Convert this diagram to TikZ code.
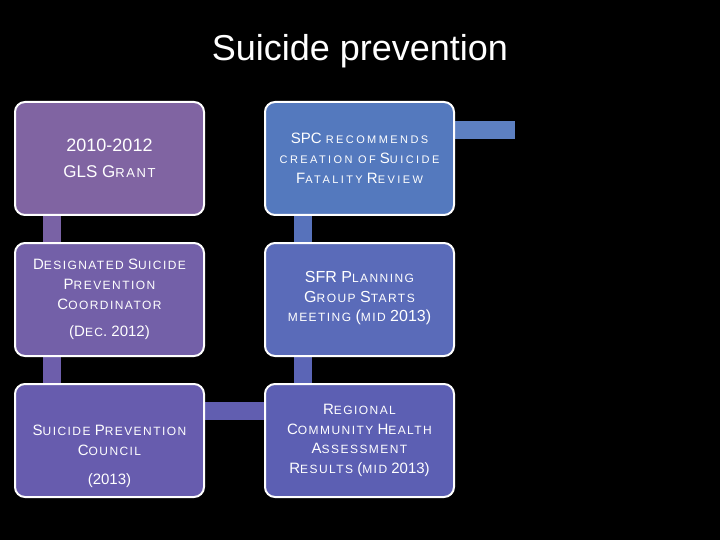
\documentclass[tikz,border=0pt]{standalone}
\usepackage{fontspec}
\setmainfont{Liberation Sans}
\usetikzlibrary{backgrounds}
\definecolor{cA}{HTML}{8064A2}
\definecolor{cB}{HTML}{7360A8}
\definecolor{cC}{HTML}{675CAE}
\definecolor{cD}{HTML}{5C5FB3}
\definecolor{cE}{HTML}{5A6BB9}
\definecolor{cF}{HTML}{5479BE}
\newcommand\sm[2][12]{{\fontsize{#1}{#1}\selectfont\addfontfeature{LetterSpace=12}#2}}
\newcommand\smw[1]{{\fontsize{11}{11}\selectfont\addfontfeature{LetterSpace=22}#1}}
\tikzset{
  boxnode/.style={draw=white, line width=2pt, rounded corners=10pt, minimum width=189pt, minimum height=113pt, inner sep=0pt},
  txt/.style={text=white, align=center, inner sep=0pt},
  bar/.style={line width=18pt}
}
\begin{document}
\begin{tikzpicture}[x=1pt,y=-1pt]
\useasboundingbox (0,0) rectangle (720,540);
\node[txt, anchor=base, font=\fontsize{36}{36}\selectfont] (title) at (360,61) {Suicide prevention};
% boxes
\node[boxnode, fill=cA] (b1) at (109.5,158.5) {};
\node[boxnode, fill=cB] (b2) at (109.5,299.5) {};
\node[boxnode, fill=cC] (b3) at (109.5,440.5) {};
\node[boxnode, fill=cD] (b4) at (359.5,440.5) {};
\node[boxnode, fill=cE] (b5) at (359.5,299.5) {};
\node[boxnode, fill=cF] (b6) at (359.5,158.5) {};
\coordinate (stubend) at (515,130);
% connectors
\begin{scope}[on background layer]
\fill[black] (0,0) rectangle (720,540);
\draw[bar, color=cA!50!cB] ([xshift=38pt]b1.south west) -- ([xshift=38pt]b2.north west);
\draw[bar, color=cB!50!cC] ([xshift=38pt]b2.south west) -- ([xshift=38pt]b3.north west);
\draw[bar, color=cC!50!cD] ([yshift=-28pt]b3.north east) -- ([yshift=-28pt]b4.north west);
\draw[bar, color=cD!50!cE] ([xshift=39pt]b4.north west) -- ([xshift=39pt]b5.south west);
\draw[bar, color=cE!50!cF] ([xshift=39pt]b5.north west) -- ([xshift=39pt]b6.south west);
\draw[bar, color=cF!95!white] (b6.east |- stubend) -- (stubend);
\end{scope}
% texts
\node[txt, font=\fontsize{17}{26}\selectfont] (t1) at (b1.center) {\fontsize{18}{26}\selectfont 2010-2012\\GLS G\sm[13]{RANT}};
\node[txt, font=\fontsize{15}{20}\selectfont] (t6) at (b6.center) {SPC \smw{RECOMMENDS}\\\smw{CREATION OF} S\smw{UICIDE}\\F\smw{ATALITY} R\smw{EVIEW}};
\node[txt, font=\fontsize{15}{20}\selectfont] (t2) at (b2.center) {D\sm{ESIGNATED} S\sm{UICIDE}\\P\sm{REVENTION}\\C\sm{OORDINATOR}\\[7pt](D\sm{EC}. 2012)};
\node[txt, font=\fontsize{16}{19.5}\selectfont] (t5) at ([yshift=1pt]b5.center) {SFR P\sm{LANNING}\\G\sm{ROUP} S\sm{TARTS}\\\sm{MEETING} (\sm{MID} 2013)};
\node[txt, font=\fontsize{15}{20}\selectfont] (t3) at ([yshift=-16pt]b3.center) {S\sm{UICIDE} P\sm{REVENTION}\\C\sm{OUNCIL}\\[9pt](2013)};
\node[txt, font=\fontsize{15}{19.5}\selectfont] (t4) at (b4.center) {R\sm{EGIONAL}\\C\sm{OMMUNITY} H\sm{EALTH}\\A\sm{SSESSMENT}\\R\sm{ESULTS} (\sm{MID} 2013)};
\end{tikzpicture}
\end{document}
